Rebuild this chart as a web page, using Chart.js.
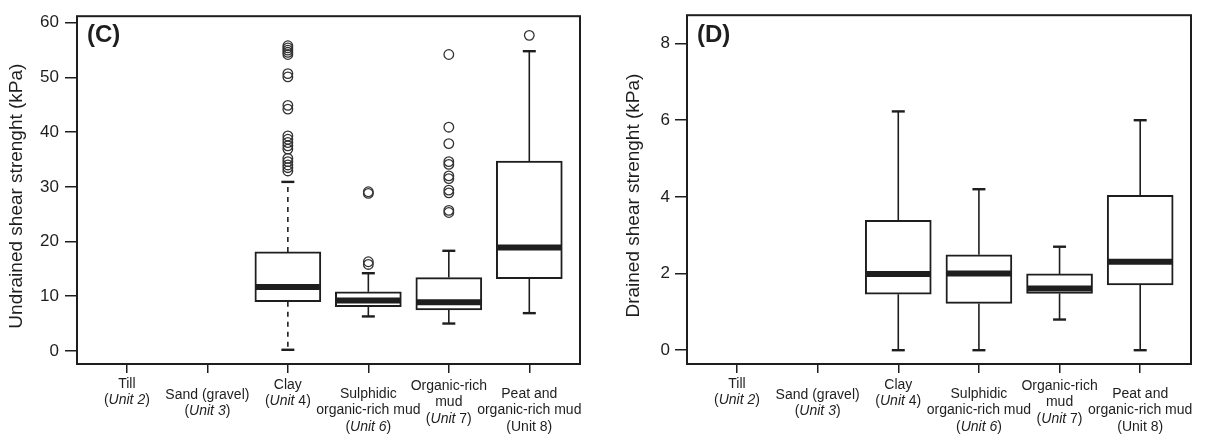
<!DOCTYPE html>
<html>
<head>
<meta charset="utf-8">
<script src="https://cdn.jsdelivr.net/npm/chart.js@4.4.1/dist/chart.umd.min.js"></script>
<style>
  body { margin: 0; background: #fff; width: 1217px; height: 434px; position: relative; overflow: hidden; }
  .panel { position: absolute; top: 0; }
  #wrapC { left: 0; }
  #wrapD { left: 617px; }
</style>
</head>
<body>
<div class="panel" id="wrapC"><canvas id="chartC" width="600" height="434"></canvas></div>
<div class="panel" id="wrapD"><canvas id="chartD" width="600" height="434"></canvas></div>
<script>
// categories (lines of the axis label, *...* = italic)
const categories = [
    ['Till', '(*Unit 2*)'],
    ['Sand (gravel)', '(*Unit 3*)'],
    ['Clay', '(*Unit* 4)'],
    ['Sulphidic', 'organic-rich mud', '(*Unit 6*)'],
    ['Organic-rich', 'mud', '(*Unit* 7)'],
    ['Peat and', 'organic-rich mud', '(Unit 8)']
];

// (C) undrained shear strength, kPa
const undrainedLow = [null, null, 0.2, 6.3, 5.0, 6.9];
const undrainedQ1 = [null, null, 9.0, 8.1, 7.5, 13.2];
const undrainedMedian = [null, null, 11.7, 9.2, 8.9, 18.9];
const undrainedQ3 = [null, null, 18.1, 10.8, 13.4, 34.7];
const undrainedHigh = [null, null, 30.9, 14.2, 18.3, 54.8];
const undrainedOutliers = [
    [],
    [],
    [55.8, 55.4, 55.0, 54.6, 54.2, 50.7, 50.1, 44.9, 44.2, 39.3, 38.7, 38.1, 37.5, 36.9, 35.2, 34.6, 34.0, 33.5, 32.9],
    [29.1, 28.8, 16.3, 15.8],
    [54.2, 40.9, 37.9, 34.6, 34.1, 32.0, 31.5, 29.4, 28.9, 25.7, 25.3],
    [57.7]
];
const undrainedTicks = [0, 10, 20, 30, 40, 50, 60];

// (D) drained shear strength, kPa
const drainedLow = [null, null, 0, 0, 0.8, 0];
const drainedQ1 = [null, null, 1.46, 1.22, 1.48, 1.70];
const drainedMedian = [null, null, 1.99, 2.0, 1.61, 2.31];
const drainedQ3 = [null, null, 3.39, 2.49, 1.99, 4.04];
const drainedHigh = [null, null, 6.23, 4.2, 2.7, 6.0];
const drainedOutliers = [[], [], [], [], [], []];
const drainedTicks = [0, 2, 4, 6, 8];

// styling
const ink = '#1e1e1e';
const fontFamily = 'Liberation Sans, Arial, sans-serif';
const labelDrop = [0, 11, 1, 10, 2, 10];
Chart.defaults.font.family = fontFamily;
Chart.defaults.color = ink;

function drawLine(ctx, x1, y1, x2, y2) {
    ctx.beginPath();
    ctx.moveTo(x1, y1);
    ctx.lineTo(x2, y2);
    ctx.stroke();
}

// one label line, mixed upright / italic
function drawRichLine(ctx, text, cx, cy) {
    const parts = text.split('*');
    let total = 0;
    parts.forEach((p, k) => {
        ctx.font = (k % 2 ? 'italic ' : '') + '14px ' + fontFamily;
        total += ctx.measureText(p).width;
    });
    let x = cx - total / 2;
    parts.forEach((p, k) => {
        ctx.font = (k % 2 ? 'italic ' : '') + '14px ' + fontFamily;
        ctx.fillText(p, x, cy);
        x += ctx.measureText(p).width;
    });
}

function boxPlugin(letter, title, low, med, high, dashed) {
    return {
        id: 'boxplot' + letter,
        afterDatasetsDraw(chart) {
            const { ctx, scales: { x, y } } = chart;
            ctx.save();
            ctx.strokeStyle = ink;
            med.forEach((m, i) => {
                if (m == null) return;
                const cx = x.getPixelForValue(i + 1);
                const q = chart.data.datasets[0].data.find(d => d.x === i + 1).y;
                // whiskers
                ctx.lineWidth = 1.6;
                ctx.setLineDash(dashed[i] ? [5, 5] : []);
                drawLine(ctx, cx, y.getPixelForValue(q[1]), cx, y.getPixelForValue(high[i]));
                drawLine(ctx, cx, y.getPixelForValue(q[0]), cx, y.getPixelForValue(low[i]));
                ctx.setLineDash([]);
                ctx.lineWidth = 2.4;
                drawLine(ctx, cx - 6.5, y.getPixelForValue(high[i]), cx + 6.5, y.getPixelForValue(high[i]));
                drawLine(ctx, cx - 6.5, y.getPixelForValue(low[i]), cx + 6.5, y.getPixelForValue(low[i]));
                // median
                ctx.lineWidth = 6;
                drawLine(ctx, cx - 32, y.getPixelForValue(m), cx + 32, y.getPixelForValue(m));
            });
            ctx.restore();
        },
        afterDraw(chart) {
            const { ctx, chartArea: a, scales: { x } } = chart;
            ctx.save();
            ctx.strokeStyle = ink;
            ctx.lineWidth = 2;
            ctx.strokeRect(a.left, a.top, a.right - a.left, a.bottom - a.top);
            ctx.fillStyle = ink;
            // y axis title
            ctx.save();
            ctx.translate(17, (a.top + a.bottom) / 2 + 6);
            ctx.rotate(-Math.PI / 2);
            ctx.font = '19px ' + fontFamily;
            ctx.textAlign = 'center';
            ctx.textBaseline = 'middle';
            ctx.fillText(title, 0, 0);
            ctx.restore();
            // panel letter
            ctx.font = 'bold 24px ' + fontFamily;
            ctx.textBaseline = 'alphabetic';
            ctx.fillText('(' + letter + ')', a.left + 10, 42);
            // category labels
            ctx.textBaseline = 'middle';
            categories.forEach((lines, i) => {
                const cx = x.getPixelForValue(i + 1);
                lines.forEach((t, k) => {
                    drawRichLine(ctx, t, cx, a.bottom + 20 + labelDrop[i] + k * 16.5);
                });
            });
            ctx.restore();
        }
    };
}

function makeChart(id, opt) {
    const boxes = [];
    const points = [];
    categories.forEach((c, i) => {
        if (opt.med[i] == null) return;
        boxes.push({ x: i + 1, y: [opt.q1[i], opt.q3[i]] });
    });
    opt.outliers.forEach((list, i) => list.forEach(v => points.push({ x: i + 1, y: v })));

    return new Chart(document.getElementById(id), {
        type: 'bar',
        data: {
            datasets: [{
                type: 'bar',
                data: boxes,
                backgroundColor: '#fff',
                borderColor: ink,
                borderWidth: 2,
                borderSkipped: false,
                barThickness: 66
            }, {
                type: 'scatter',
                data: points,
                showLine: false,
                pointStyle: 'circle',
                pointRadius: 4.8,
                pointBorderWidth: 1.3,
                pointBackgroundColor: 'rgba(0,0,0,0)',
                pointBorderColor: '#333'
            }]
        },
        options: {
            responsive: false,
            animation: false,
            layout: { padding: { top: 10, right: opt.padRight, left: 0, bottom: 0 } },
            plugins: { legend: { display: false }, tooltip: { enabled: false } },
            scales: {
                x: {
                    type: 'linear',
                    min: 0.38,
                    max: 6.63,
                    offset: false,
                    border: { display: false },
                    grid: { drawOnChartArea: false, offset: false, tickLength: 9, color: ink, lineWidth: 1.5 },
                    ticks: { display: false },
                    afterBuildTicks: s => { s.ticks = categories.map((c, i) => ({ value: i + 1 })); },
                    afterFit: s => { s.height = 70; }
                },
                y: {
                    min: opt.yMin,
                    max: opt.yMax,
                    border: { display: false },
                    grid: { drawOnChartArea: false, tickLength: 12, color: ink, lineWidth: 1.5 },
                    ticks: { font: { size: 17 }, padding: opt.tickPad, color: ink },
                    afterBuildTicks: s => { s.ticks = opt.ticks.map(v => ({ value: v })); },
                    afterFit: s => { s.width = opt.axisWidth; }
                }
            }
        },
        plugins: [boxPlugin(opt.letter, opt.title, opt.low, opt.med, opt.high, opt.dashed)]
    });
}

makeChart('chartC', {
    letter: 'C',
    title: 'Undrained shear strenght (kPa)',
    q1: undrainedQ1, q3: undrainedQ3, med: undrainedMedian,
    low: undrainedLow, high: undrainedHigh, outliers: undrainedOutliers,
    ticks: undrainedTicks, yMin: -2.4, yMax: 61.2,
    dashed: [false, false, true, false, false, false],
    axisWidth: 77, padRight: 20, tickPad: 6
});

makeChart('chartD', {
    letter: 'D',
    title: 'Drained shear strenght (kPa)',
    q1: drainedQ1, q3: drainedQ3, med: drainedMedian,
    low: drainedLow, high: drainedHigh, outliers: drainedOutliers,
    ticks: drainedTicks, yMin: -0.36, yMax: 8.74,
    dashed: [false, false, false, false, false, false],
    axisWidth: 70, padRight: 26, tickPad: 5
});
</script>
</body>
</html>
